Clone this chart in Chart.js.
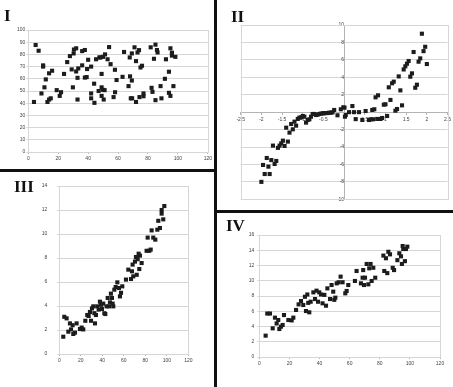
<!DOCTYPE html>
<html>
<head>
<meta charset="utf-8">
<script src="https://cdn.jsdelivr.net/npm/chart.js@4.4.1/dist/chart.umd.min.js"></script>
<style>
  body { margin: 0; background: #fff; width: 453px; height: 387px; position: relative; overflow: hidden; }
  .box { position: absolute; }
  .num { position: absolute; font-family: "Liberation Serif", serif; font-weight: bold; font-size: 17px; line-height: 1; color: #111; }
  .bar { position: absolute; background: #111; }
</style>
</head>
<body>
<div class="box" style="left:0;top:0;width:214px;height:169px"><canvas id="c1"></canvas></div>
<div class="box" style="left:217px;top:0;width:236px;height:209px"><canvas id="c2"></canvas></div>
<div class="box" style="left:0;top:172px;width:214px;height:215px"><canvas id="c3"></canvas></div>
<div class="box" style="left:217px;top:213px;width:236px;height:174px"><canvas id="c4"></canvas></div>

<div class="bar" style="left:214px;top:0;width:3px;height:387px"></div>
<div class="bar" style="left:0;top:169px;width:214px;height:3px"></div>
<div class="bar" style="left:217px;top:210px;width:236px;height:3px"></div>

<div class="num" style="left:4px;top:7px">I</div>
<div class="num" style="left:231px;top:8px">II</div>
<div class="num" style="left:14px;top:178px">III</div>
<div class="num" style="left:226px;top:217px">IV</div>

<script>
// I
const iX = [3.8, 4.9, 6.9, 8.8, 9.9, 9.9, 10.8, 11.7, 12.8, 13.9, 13.9, 15, 15.9, 19, 21, 21.9, 23.9, 26, 27.8, 29,
  29.8, 30.3, 30.5, 32, 32, 32.9, 32.9, 33.4, 36, 36, 37.8, 37.8, 39, 39.3, 40, 42, 42, 42, 44, 44.2,
  45.3, 47, 47.5, 48.2, 49, 49, 49, 49.7, 50, 50.4, 51, 51.3, 53, 54, 55, 57, 57.9, 58, 59, 63,
  64, 67, 67.8, 68, 68.5, 69.2, 69.2, 69.4, 71, 72, 72, 73, 74, 74.3, 75, 76, 77, 77, 81.8, 82.4,
  83, 84, 85, 85, 86, 86.4, 88.4, 89, 91.3, 92, 94, 94, 95, 95, 96, 96, 97, 98.3];
const iY = [41, 87.7, 83, 48, 71, 70, 53, 59.5, 41, 64.5, 43, 44, 66.6, 50.7, 46, 49, 64, 73.7, 78.6, 67.7,
  53, 80.8, 84, 66, 85, 60.8, 43, 68.5, 71, 82.7, 83.6, 61, 61.4, 68, 75.6, 70, 48, 44, 56, 40.3,
  76, 50, 77.5, 77.5, 64, 53, 46, 51, 78, 43, 50.7, 80, 76, 86, 72, 45, 67.4, 49, 59, 61.6,
  82, 54, 77.5, 62, 44, 80.8, 58.6, 44, 85.8, 74.5, 41, 81.6, 83.5, 45, 69.3, 70.7, 45.7, 48, 85.8, 52.6,
  49.3, 76.4, 88, 42.5, 83.6, 81.6, 54, 44, 60, 76, 65.8, 48.5, 85, 46, 81.4, 79, 54, 78];

// II
const iiX = [-2, -1.96, -1.92, -1.87, -1.83, -1.8, -1.76, -1.72, -1.68, -1.64, -1.6, -1.56, -1.52, -1.48, -1.44, -1.4, -1.36, -1.32, -1.28, -1.24,
  -1.2, -1.16, -1.12, -1.08, -1.04, -1, -0.96, -0.92, -0.88, -0.84, -0.8, -0.76, -0.72, -0.68, -0.64, -0.6, -0.56, -0.52, -0.48, -0.44,
  -0.4, -0.36, -0.32, -0.28, -0.24, -0.16, -0.08, -0.02, 0.01, 0.02, 0.04, 0.12, 0.2, 0.24, 0.28, 0.36, 0.44, 0.52, 0.6, 0.64,
  0.68, 0.7, 0.73, 0.76, 0.8, 0.82, 0.88, 0.92, 0.96, 1, 1.04, 1.08, 1.12, 1.16, 1.2, 1.24, 1.28, 1.32, 1.36, 1.4,
  1.44, 1.48, 1.52, 1.56, 1.6, 1.64, 1.68, 1.72, 1.76, 1.8, 1.84, 1.88, 1.92, 1.96, 2];
const iiY = [-8, -6.06, -7.1, -5.26, -6.25, -7.1, -5.5, -3.84, -5.95, -5.6, -4.1, -3.84, -3.58, -3.27, -3.88, -1.78, -3.38, -2.35, -1.36, -1.97,
  -1.09, -1.55, -0.78, -0.63, -0.6, -0.44, -0.52, -1.2, -0.9, -0.82, -0.52, -0.21, -0.21, -0.33, -0.29, -0.21, -0.17, -0.13, -0.13, -0.1,
  -0.1, -0.06, -0.06, -0.02, 0.25, -0.36, 0.33, 0.55, 0.52, -0.52, -0.33, 0, 0.7, 0, -0.8, 0, -0.9, 0.13, -0.9, -0.82,
  0.25, -0.82, 0.33, 1.7, -0.78, 1.93, -0.78, -0.67, 0.86, 0.9, -0.44, 2.85, 1.4, 3.31, 3.5, 0.17, 0.36, 4.1, 2.5, 0.78,
  4.9, 5.26, 5.56, 5.87, 4.07, 4.45, 6.9, 2.8, 3.15, 5.79, 6.17, 9, 7, 7.5, 5.52];

// III
const iiiX = [3.7, 4.65, 6.8, 8.4, 9.9, 10.9, 12.4, 13, 14.6, 16.1, 19.2, 20.8, 22.3, 24.2, 26, 27.3, 28.5, 29.5, 30.4, 31.6,
  32.6, 33.2, 34.1, 35.3, 36.6, 37.8, 38.8, 39.7, 40.9, 41.9, 42.8, 44, 45, 46.2, 47.1, 48, 49, 49.6, 50.2, 51.2,
  52.4, 54, 55.5, 56.4, 57.4, 58.6, 62, 64.2, 66.7, 67.6, 68.2, 68.8, 70.4, 71.3, 72, 72.9, 73.8, 74.4, 75, 76.6,
  81.2, 82.2, 83.7, 85, 85.9, 87.4, 89.3, 91.2, 92.1, 93.6, 95.2, 95.2, 96.7, 97.7];
const iiiY = [1.44, 3.1, 2.97, 1.86, 2.55, 2.05, 2.4, 1.67, 1.78, 2.55, 2.08, 2.2, 2.05, 2.77, 3.25, 3.17, 3.5, 2.77, 3.8, 3.97,
  3.4, 2.55, 3.25, 3.97, 3.7, 4.36, 4.1, 3.75, 4.2, 3.4, 3.33, 3.97, 4.67, 3.97, 4.3, 5.03, 4.67, 4.2, 3.97, 5.36,
  5.58, 5.97, 5.5, 4.8, 5.1, 5.64, 6.2, 7.03, 6.25, 6.89, 7.45, 6.47, 7.7, 8.08, 6.6, 7.9, 8.36, 7.08, 8.2, 7.58,
  8.6, 9.7, 8.6, 8.7, 10.3, 9.7, 9.53, 10.36, 11.1, 10.5, 11.7, 12, 11.22, 12.33];

// IV
const ivX = [4.2, 5.3, 7.1, 8.9, 10.4, 11.5, 12.6, 13.3, 14.4, 15.5, 16.4, 19.3, 21.5, 22.6, 24.4, 26.1, 27.7, 29.2, 30.3, 31,
  31.9, 32.5, 33.2, 34.1, 35.9, 37, 38, 39, 39.8, 41, 42, 43.2, 44.3, 45.2, 47, 48, 49.1, 49.8, 50.5, 51.4,
  52.7, 54, 55.3, 57.1, 58, 59.1, 63.5, 64.6, 67.5, 68.6, 69, 69.5, 70.2, 71.3, 72.4, 73, 73.9, 74.6, 75.7, 77,
  82.4, 83, 84.1, 85, 85.7, 86.8, 88.6, 89.5, 91.7, 93, 94.1, 94.7, 95.2, 95.6, 96.7, 97.4, 98.3];
const ivY = [2.8, 5.7, 5.7, 3.76, 5.16, 4.4, 4.85, 3.67, 3.98, 4.2, 5.5, 4.85, 4.8, 5.16, 6.17, 6.9, 7.34, 6.82, 7.9, 6.03,
  8.2, 7.1, 5.86, 7.25, 8.48, 7.6, 8.7, 7.25, 8.48, 8.2, 7.04, 8.15, 6.73, 9, 7.6, 9.44, 8.57, 7.5, 7.78, 9.66,
  9.8, 10.54, 9.8, 8.35, 8.66, 9.44, 9.97, 11.28, 9.66, 10.4, 11.4, 9.44, 10.4, 12.2, 9.53, 11.63, 12.2, 9.97, 11.7, 10.4,
  13.3, 11.28, 12.95, 11, 13.8, 13.46, 11.7, 11.4, 12.7, 13.6, 13.2, 12.2, 14.55, 14.16, 12.57, 14.16, 14.47];

const gridColor = '#d6d6d6';
const axisColor = '#b4b4b4';
const tickFont = { family: 'Liberation Sans', size: 5 };

// light box round the plot area
const frame = {
  id: 'frame',
  beforeDatasetsDraw(chart) {
    const a = chart.chartArea, ctx = chart.ctx;
    ctx.save();
    ctx.strokeStyle = gridColor;
    ctx.lineWidth = 1;
    ctx.strokeRect(Math.round(a.left) + 0.5, Math.round(a.top) + 0.5, Math.round(a.width), Math.round(a.height));
    ctx.restore();
  }
};

function points(xs, ys) {
  return xs.map((x, i) => ({ x: x, y: ys[i] }));
}

function scatter(id, xs, ys, o) {
  const centred = !!o.centred;
  new Chart(document.getElementById(id), {
    type: 'scatter',
    data: {
      datasets: [{
        data: points(xs, ys),
        pointStyle: 'rect',
        pointRadius: 2.9,
        pointHoverRadius: 2.9,
        backgroundColor: '#1c1c1c',
        borderWidth: 0,
        clip: false
      }]
    },
    options: {
      responsive: true,
      maintainAspectRatio: false,
      animation: false,
      events: [],
      layout: { padding: o.pad },
      plugins: { legend: { display: false }, tooltip: { enabled: false } },
      scales: {
        x: {
          type: 'linear',
          position: centred ? { y: 0 } : 'bottom',
          min: o.x[0], max: o.x[1],
          grid: { display: true, drawOnChartArea: false, tickLength: 2, color: axisColor },
          border: { display: true, color: axisColor },
          ticks: {
            stepSize: o.x[2], font: tickFont, color: '#444', padding: 2, maxRotation: 0, autoSkip: false,
            callback: v => (centred && v === 0) ? '' : v
          },
          afterFit: centred ? undefined : s => { s.height = o.bottom; }
        },
        y: {
          type: 'linear',
          position: centred ? { x: 0 } : 'left',
          min: o.y[0], max: o.y[1],
          grid: { color: gridColor, tickLength: 2 },
          border: { display: true, color: axisColor },
          ticks: {
            stepSize: o.y[2], font: tickFont, color: '#444', padding: o.yPad, autoSkip: false,
            callback: v => (centred && v === 0) ? '' : v
          },
          afterFit: centred ? undefined : s => { s.width = o.left; }
        }
      }
    },
    plugins: [frame]
  });
}

scatter('c1', iX, iY, { x: [0, 120, 20], y: [0, 100, 10], pad: { left: 0, top: 30, right: 5, bottom: 0 }, left: 28.3, bottom: 17, yPad: 1 });
scatter('c2', iiX, iiY, { x: [-2.5, 2.5, 0.5], y: [-10, 10, 2], pad: { left: 23.7, top: 25, right: 4, bottom: 9.7 }, centred: true, yPad: 2 });
scatter('c3', iiiX, iiiY, { x: [0, 120, 20], y: [0, 14, 2], pad: { left: 0, top: 14, right: 25.7, bottom: 0 }, left: 59.3, bottom: 33, yPad: 10 });
scatter('c4', ivX, ivY, { x: [0, 120, 20], y: [0, 16, 2], pad: { left: 0, top: 22, right: 13, bottom: 0 }, left: 42.3, bottom: 30, yPad: 3 });
</script>
</body>
</html>
